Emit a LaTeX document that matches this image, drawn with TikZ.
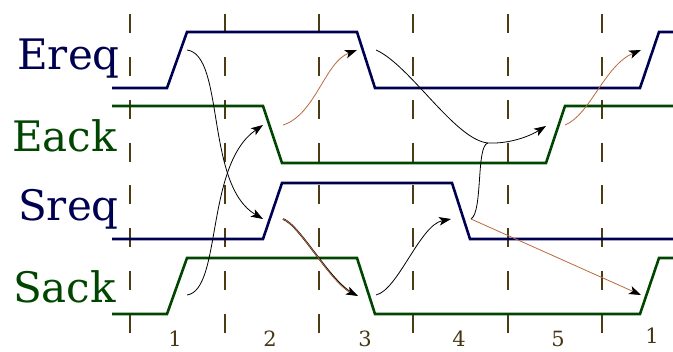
\documentclass[tikz,border=0pt]{standalone}
\usepackage{fontspec}
\setmainfont{DejaVu Serif}
\usetikzlibrary{arrows.meta}
\definecolor{navy}{RGB}{0,0,80}
\definecolor{dgreen}{RGB}{0,70,0}
\definecolor{brownarr}{RGB}{185,105,60}
\definecolor{dashcol}{RGB}{75,60,20}
\definecolor{numcol}{RGB}{70,55,20}
\tikzset{
  sigE/.style={draw=navy,line width=2.6pt,line join=miter},
  sigA/.style={draw=dgreen,line width=2.6pt,line join=miter},
  grid/.style={draw=dashcol,line width=1.6pt,dash pattern=on 19pt off 23.86pt},
  blk/.style={draw=black,line width=0.8pt,-{Stealth[length=12pt,width=8.5pt,inset=3pt]}},
  brn/.style={draw=brownarr,line width=0.8pt,-{Stealth[length=12pt,width=8.5pt,inset=3pt,color=black,fill=black]}},
  lblE/.style={text=navy,font=\fontsize{42}{42}\selectfont,anchor=base east,inner sep=0pt},
  lblA/.style={text=dgreen,font=\fontsize{42}{42}\selectfont,anchor=base east,inner sep=0pt},
  num/.style={text=numcol,font=\fontsize{21}{21}\selectfont,anchor=base,inner sep=0pt},
}
\begin{document}
\begin{tikzpicture}[x=1pt,y=-1pt]
\useasboundingbox (0,0) rectangle (673,352);
% grid lines
\foreach \gx in {130,225,319,413,508,602}{
  \path[grid] (\gx,14) -- (\gx,333);
}
% signals
\path[sigE] (112,88) -- (167,88) -- (187,32) -- (357,32) -- (375,88) -- (640,88) -- (659,32) -- (675,32);
\path[sigA] (112,106) -- (263,106) -- (282,163) -- (546,163) -- (565,106) -- (675,106);
\path[sigE] (112,239) -- (263,239) -- (282,183) -- (452,183) -- (470,239) -- (675,239);
\path[sigA] (112,314) -- (167,314) -- (187,258) -- (357,258) -- (375,314) -- (640,314) -- (659,258) -- (675,258);
% labels
\node[lblE] (ereq) at (120,70) {Ereq};
\node[lblA] (eack) at (117,152) {Eack};
\node[lblE] (sreq) at (119,221) {Sreq};
\node[lblA] (sack) at (116,303) {Sack};
% numbers
\node[num] (n1) at (175,347) {1};
\node[num] (n2) at (270,347) {2};
\node[num] (n3) at (365,347) {3};
\node[num] (n4) at (459,347) {4};
\node[num] (n5) at (558,347) {5};
\node[num] (n6) at (652,344) {1};
% event points
\coordinate (er1) at (187,50);
\coordinate (ef1a) at (357,50);
\coordinate (ef1b) at (376,50);
\coordinate (er2) at (641,50);
\coordinate (kf1a) at (263,125);
\coordinate (kf1b) at (283,125);
\coordinate (kr1a) at (546,126);
\coordinate (kr1b) at (565,125);
\coordinate (sr1a) at (263,219);
\coordinate (sr1b) at (283,219);
\coordinate (sf1a) at (451,219);
\coordinate (sf1b) at (471,219);
\coordinate (ar1) at (187,295);
\coordinate (af1a) at (358,296);
\coordinate (af1b) at (376,295);
\coordinate (ar2) at (641,295);
\coordinate (m) at (488,143);
% arrows
\draw[blk] (er1) .. controls (225,55) and (205,185) .. (sr1a);
\draw[blk] (ar1) .. controls (222,290) and (205,165) .. (kf1a);
\draw[brn] (kf1b) .. controls (315,115) and (325,62) .. (ef1a);
\draw[draw=black,line width=1.6pt,shorten >=6pt] (sr1b) .. controls (300,225) and (330,282) .. (af1a);
\draw[brn] (sr1b) .. controls (300,225) and (330,282) .. (af1a);
\draw[blk] (ef1b) .. controls (410,65) and (455,140) .. (m) .. controls (510,144) and (530,136) .. (kr1a);
\draw[draw=black,line width=0.8pt] (sf1b) .. controls (483,212) and (476,145) .. (m);
\draw[blk] (af1b) .. controls (398,290) and (420,225) .. (sf1a);
\draw[brn] (sf1b) -- (ar2);
\draw[brn] (kr1b) .. controls (590,115) and (605,65) .. (er2);
\end{tikzpicture}
\end{document}
